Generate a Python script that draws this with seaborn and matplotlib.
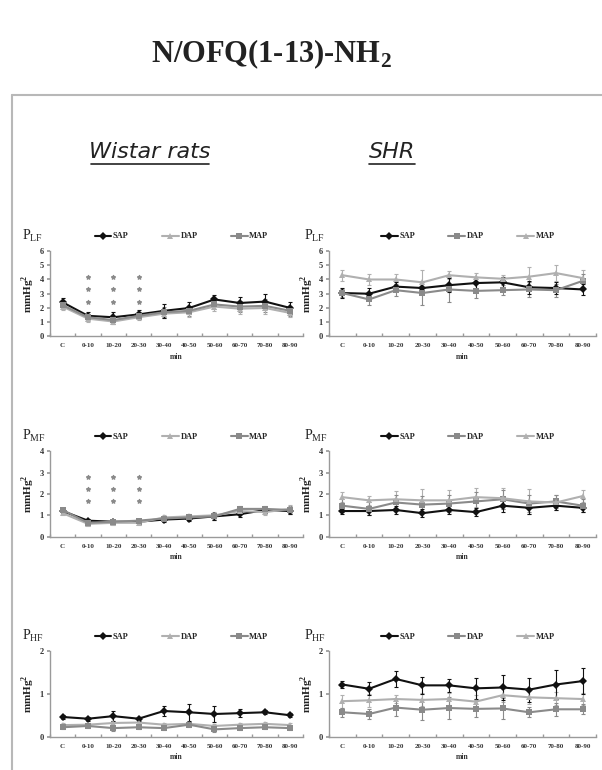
import numpy as np
import pandas as pd
import seaborn as sns
import matplotlib
matplotlib.use("Agg")
import matplotlib.pyplot as plt
from matplotlib.lines import Line2D

periods = ["C", "0-10", "10-20", "20-30", "30-40", "40-50", "50-60", "60-70", "70-80", "80-90"]

# Wistar rats
w_lf_sap = [2.4, 1.45, 1.35, 1.55, 1.8, 2.0, 2.6, 2.35, 2.45, 2.0]
w_lf_dap = [2.1, 1.25, 1.05, 1.35, 1.6, 1.7, 2.1, 1.95, 2.0, 1.65]
w_lf_map = [2.2, 1.35, 1.15, 1.45, 1.7, 1.8, 2.25, 2.1, 2.15, 1.8]
w_lf_sap_err = [0.3, 0.25, 0.35, 0.3, 0.5, 0.4, 0.3, 0.45, 0.55, 0.4]
w_lf_dap_err = [0.25, 0.2, 0.2, 0.2, 0.3, 0.3, 0.3, 0.35, 0.4, 0.3]
w_lf_map_err = [0.3, 0.2, 0.25, 0.25, 0.35, 0.35, 0.3, 0.4, 0.45, 0.35]

w_mf_sap = [1.2, 0.75, 0.7, 0.7, 0.8, 0.85, 0.95, 1.05, 1.25, 1.2]
w_mf_dap = [1.1, 0.6, 0.65, 0.65, 0.9, 0.95, 1.0, 1.2, 1.15, 1.3]
w_mf_map = [1.25, 0.65, 0.7, 0.75, 0.85, 0.9, 0.95, 1.3, 1.3, 1.25]
w_mf_sap_err = [0.1, 0.1, 0.1, 0.1, 0.1, 0.1, 0.15, 0.15, 0.15, 0.15]
w_mf_dap_err = [0.1, 0.1, 0.1, 0.1, 0.1, 0.1, 0.15, 0.15, 0.15, 0.2]
w_mf_map_err = [0.1, 0.1, 0.1, 0.1, 0.1, 0.1, 0.15, 0.15, 0.15, 0.2]

w_hf_sap = [0.46, 0.42, 0.48, 0.42, 0.6, 0.57, 0.53, 0.55, 0.57, 0.5]
w_hf_dap = [0.27, 0.28, 0.32, 0.33, 0.28, 0.3, 0.25, 0.28, 0.3, 0.27]
w_hf_map = [0.22, 0.25, 0.2, 0.22, 0.2, 0.28, 0.17, 0.2, 0.22, 0.2]
w_hf_sap_err = [0.05, 0.05, 0.12, 0.05, 0.12, 0.2, 0.18, 0.1, 0.05, 0.05]
w_hf_dap_err = [0.05, 0.05, 0.05, 0.05, 0.05, 0.05, 0.05, 0.05, 0.05, 0.05]
w_hf_map_err = [0.05, 0.05, 0.06, 0.05, 0.05, 0.05, 0.06, 0.05, 0.05, 0.05]

# SHR
s_lf_sap = [3.05, 3.0, 3.5, 3.4, 3.6, 3.75, 3.8, 3.45, 3.4, 3.3]
s_lf_dap = [3.05, 2.6, 3.25, 3.05, 3.3, 3.2, 3.25, 3.3, 3.25, 3.9]
s_lf_map = [4.3, 4.0, 4.0, 3.8, 4.3, 4.15, 4.05, 4.2, 4.45, 4.1]
s_lf_sap_err = [0.35, 0.4, 0.3, 0.4, 0.5, 0.45, 0.35, 0.45, 0.4, 0.4]
s_lf_dap_err = [0.3, 0.4, 0.4, 0.85, 0.9, 0.5, 0.35, 0.5, 0.45, 0.5]
s_lf_map_err = [0.4, 0.4, 0.4, 0.85, 0.3, 0.3, 0.3, 0.65, 0.55, 0.6]

s_mf_sap = [1.2, 1.2, 1.25, 1.1, 1.25, 1.15, 1.45, 1.35, 1.45, 1.35]
s_mf_dap = [1.45, 1.3, 1.6, 1.5, 1.55, 1.65, 1.75, 1.55, 1.65, 1.45]
s_mf_map = [1.85, 1.7, 1.75, 1.7, 1.7, 1.85, 1.8, 1.65, 1.6, 1.9]
s_mf_sap_err = [0.15, 0.2, 0.2, 0.2, 0.2, 0.2, 0.3, 0.3, 0.2, 0.2]
s_mf_dap_err = [0.3, 0.3, 0.35, 0.4, 0.4, 0.45, 0.45, 0.4, 0.3, 0.3]
s_mf_map_err = [0.25, 0.2, 0.4, 0.55, 0.5, 0.45, 0.5, 0.6, 0.35, 0.3]

s_hf_sap = [1.22, 1.12, 1.35, 1.2, 1.2, 1.13, 1.15, 1.1, 1.22, 1.3]
s_hf_dap = [0.57, 0.53, 0.68, 0.63, 0.67, 0.65, 0.66, 0.57, 0.64, 0.64]
s_hf_map = [0.83, 0.85, 0.88, 0.86, 0.88, 0.82, 0.97, 0.92, 0.9, 0.88]
s_hf_sap_err = [0.08, 0.15, 0.18, 0.2, 0.15, 0.25, 0.3, 0.28, 0.35, 0.3]
s_hf_dap_err = [0.1, 0.12, 0.2, 0.25, 0.25, 0.2, 0.25, 0.12, 0.15, 0.12]
s_hf_map_err = [0.15, 0.15, 0.1, 0.15, 0.15, 0.15, 0.15, 0.15, 0.15, 0.15]

# significance asterisks (Wistar only)
sig_periods = [1, 2, 3]
lf_star_levels = [2.45, 3.35, 4.2]
mf_star_levels = [1.65, 2.25, 2.8]

sns.set_theme(style="white")
plt.rcParams["font.family"] = ["Liberation Serif", "DejaVu Serif"]
plt.rcParams["mathtext.fontset"] = "custom"
plt.rcParams["mathtext.rm"] = "Liberation Serif:bold"
plt.rcParams["mathtext.bf"] = "Liberation Serif:bold"

BLACK = "#111111"
MID = "#8a8a8a"
LIGHT = "#b0b0b0"
AXC = "#9a9a9a"

fig = plt.figure(figsize=(6.02, 7.70), dpi=100)

# title and group headers
fig.text(271 / 602, 1 - 54 / 770, r"N/OFQ(1-13)-NH$_2$", ha="center", va="center",
         fontsize=22, fontweight="bold", color="#222222")
fig.add_artist(Line2D([12 / 602, 1], [1 - 95 / 770] * 2, color="#b8b8b8", lw=1.5))
fig.add_artist(Line2D([12 / 602] * 2, [0, 1 - 95 / 770], color="#b8b8b8", lw=1.5))
for txt, xc, w in [("Wistar rats", 150, 118), ("SHR", 392, 46)]:
    fig.text(xc / 602, 1 - 152 / 770, txt, ha="center", va="center", fontsize=16,
             style="italic", family="DejaVu Sans", color="#222222")
    fig.add_artist(Line2D([(xc - w / 2) / 602, (xc + w / 2) / 602], [1 - 164 / 770] * 2,
                          color="#222222", lw=1.2))

rows = [(0.563, 6, "LF"), (0.303, 4, "MF"), (0.0433, 2, "HF")]
cols = [(50 / 602, 253 / 602), (329 / 602, 267 / 602)]

panels = {
    (0, 0): [w_lf_sap, w_lf_dap, w_lf_map, w_lf_sap_err, w_lf_dap_err, w_lf_map_err],
    (1, 0): [w_mf_sap, w_mf_dap, w_mf_map, w_mf_sap_err, w_mf_dap_err, w_mf_map_err],
    (2, 0): [w_hf_sap, w_hf_dap, w_hf_map, w_hf_sap_err, w_hf_dap_err, w_hf_map_err],
    (0, 1): [s_lf_sap, s_lf_dap, s_lf_map, s_lf_sap_err, s_lf_dap_err, s_lf_map_err],
    (1, 1): [s_mf_sap, s_mf_dap, s_mf_map, s_mf_sap_err, s_mf_dap_err, s_mf_map_err],
    (2, 1): [s_hf_sap, s_hf_dap, s_hf_map, s_hf_sap_err, s_hf_dap_err, s_hf_map_err],
}

x = np.arange(len(periods))
for (r, c), vals in panels.items():
    bottom, ymax, band = rows[r]
    left, width = cols[c]
    ax = fig.add_axes([left, bottom, width, 85.5 / 770])
    sap, dap, mapv, e_sap, e_dap, e_map = vals
    # wistar: DAP light triangle, MAP gray square; SHR: DAP gray square, MAP light triangle
    if c == 0:
        styles = {"SAP": (BLACK, "D"), "DAP": (LIGHT, "^"), "MAP": (MID, "s")}
    else:
        styles = {"SAP": (BLACK, "D"), "DAP": (MID, "s"), "MAP": (LIGHT, "^")}
    df = pd.DataFrame({
        "x": np.tile(x, 3),
        "value": sap + dap + mapv,
        "series": ["SAP"] * 10 + ["DAP"] * 10 + ["MAP"] * 10,
    })
    errs = {"SAP": e_sap, "DAP": e_dap, "MAP": e_map}
    for name in ["MAP", "DAP", "SAP"]:
        col, _ = styles[name]
        sub = df[df.series == name]
        ax.errorbar(sub.x, sub.value, yerr=errs[name], fmt="none", ecolor=col,
                    elinewidth=0.8, capsize=1.5, capthick=0.8, zorder=2)
    sns.lineplot(data=df, x="x", y="value", hue="series", style="series",
                 hue_order=["SAP", "DAP", "MAP"], style_order=["SAP", "DAP", "MAP"],
                 palette={k: v[0] for k, v in styles.items()},
                 markers={k: v[1] for k, v in styles.items()},
                 dashes=False, markersize=4, linewidth=1.5,
                 markeredgewidth=0, ax=ax, zorder=3)
    if c == 0 and r < 2:
        levels = lf_star_levels if r == 0 else mf_star_levels
        for p in sig_periods:
            ax.scatter([p] * len(levels), levels, marker="*", s=8, color=MID, zorder=4)
    ax.set_xlim(-0.5, 9.5)
    ax.set_ylim(0, ymax)
    ax.set_yticks(range(0, ymax + 1))
    ax.set_xticks(x)
    ax.set_xticks(np.arange(-0.5, 10, 1), minor=True)
    ax.set_xticklabels(periods)
    ax.tick_params(axis="x", which="major", length=0, labelsize=5, pad=5, colors="#333333")
    ax.tick_params(axis="x", which="minor", length=2, direction="in", color=AXC, bottom=True)
    ax.tick_params(axis="y", length=2.5, labelsize=6, pad=2, colors="#333333", color=AXC, left=True)
    for lab in ax.get_xticklabels() + ax.get_yticklabels():
        lab.set_fontweight("bold")
    for s in ["top", "right"]:
        ax.spines[s].set_visible(False)
    for s in ["left", "bottom"]:
        ax.spines[s].set_color(AXC)
        ax.spines[s].set_linewidth(1.0)
    ax.set_xlabel("min", fontsize=5.5, fontweight="bold", labelpad=3, color="#333333")
    ax.set_ylabel(r"mmHg$^2$", fontsize=8, fontweight="bold", labelpad=2, color="#222222")
    handles, labels = ax.get_legend_handles_labels()
    ax.legend(handles, labels, ncol=3, loc="center", bbox_to_anchor=(0.52, 1.17),
              frameon=False, columnspacing=4.0, handlelength=2.0,
              handletextpad=0.2, prop={"weight": "bold", "size": 6})
    lab_x = 22 / 602 if c == 0 else 304 / 602
    fig.text(lab_x, bottom + (85.5 + 15) / 770, r"P$_{\mathregular{" + band + "}}$",
             ha="left", va="center", fontsize=10, color="#222222")

fig.savefig("out.png", dpi=100)
